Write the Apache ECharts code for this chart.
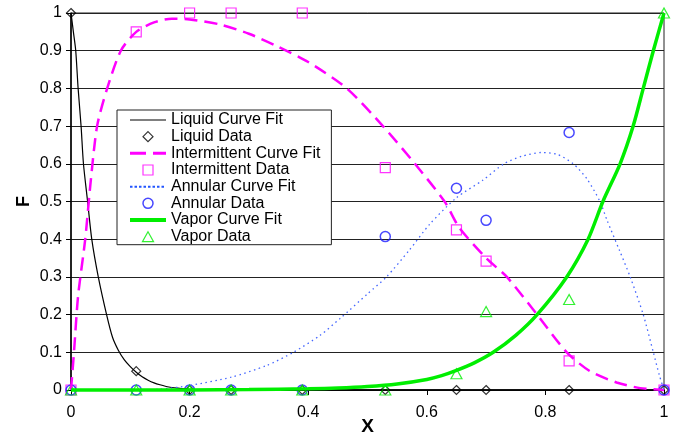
<!DOCTYPE html>
<html>
<head>
<meta charset="utf-8">
<script src="https://cdn.jsdelivr.net/npm/echarts@6/dist/echarts.min.js"></script>
<style>
  html, body { margin: 0; padding: 0; background: #fff; }
  #chart { width: 677px; height: 438px; }
</style>
</head>
<body>
<div id="chart"></div>
<script>
// measured points (X) shared by all four data sets
const xData = [0, 0.11, 0.2, 0.27, 0.39, 0.53, 0.65, 0.70, 0.84, 1];
const liquidData = [1, 0.05, 0, 0, 0, 0, 0, 0, 0, 0];
const intermittentData = [0, 0.95, 1, 1, 1, 0.59, 0.425, 0.342, 0.077, 0];
const annularData = [0, 0, 0, 0, 0, 0.407, 0.535, 0.45, 0.683, 0];
const vaporData = [0, 0, 0, 0, 0, 0, 0.043, 0.208, 0.24, 1];

// curve fits
const liquidFit = [[0, 1], [0.004, 0.95], [0.008, 0.9], [0.012, 0.8], [0.017, 0.7], [0.021, 0.6],
  [0.028, 0.5], [0.035, 0.4], [0.046, 0.3], [0.06, 0.2], [0.07, 0.14], [0.08, 0.105],
  [0.09, 0.08], [0.1, 0.062], [0.11, 0.047], [0.12, 0.035], [0.13, 0.026], [0.14, 0.019],
  [0.15, 0.014], [0.165, 0.008], [0.18, 0.005], [0.2, 0.002], [0.22, 0.001], [0.3, 0], [1, 0]];
const intermittentFit = [[0, 0], [0.005, 0.1], [0.012, 0.25], [0.024, 0.4], [0.033, 0.55],
  [0.044, 0.7], [0.061, 0.8], [0.084, 0.9], [0.11, 0.95], [0.14, 0.975], [0.17, 0.985],
  [0.2, 0.983], [0.25, 0.97], [0.3, 0.945], [0.35, 0.91], [0.4, 0.87], [0.465, 0.8],
  [0.526, 0.7], [0.58, 0.6], [0.63, 0.5], [0.655, 0.43], [0.70, 0.35], [0.735, 0.3],
  [0.786, 0.2], [0.836, 0.1], [0.875, 0.05], [0.92, 0.02], [0.96, 0.005], [1, 0]];
const annularFit = [[0, 0], [0.1, 0], [0.15, 0.002], [0.2, 0.012], [0.27, 0.034], [0.33, 0.065],
  [0.375, 0.1], [0.42, 0.145], [0.454, 0.19], [0.5, 0.255], [0.532, 0.3], [0.57, 0.37],
  [0.605, 0.44], [0.65, 0.51], [0.695, 0.557], [0.73, 0.6], [0.76, 0.62], [0.794, 0.63],
  [0.82, 0.625], [0.847, 0.6], [0.87, 0.56], [0.892, 0.5], [0.904, 0.45], [0.925, 0.37],
  [0.943, 0.3], [0.965, 0.2], [0.982, 0.1], [0.992, 0.04], [1, 0]];
const vaporFit = [[0, 0], [0.2, 0], [0.3, 0.001], [0.4, 0.003], [0.45, 0.005], [0.5, 0.009],
  [0.55, 0.016], [0.6, 0.028], [0.625, 0.038], [0.65, 0.052], [0.68, 0.072], [0.712, 0.1],
  [0.75, 0.145], [0.786, 0.2], [0.836, 0.3], [0.872, 0.4], [0.897, 0.5], [0.926, 0.6],
  [0.948, 0.7], [0.965, 0.8], [0.982, 0.9], [1, 1]];

const FONT = "'Liberation Sans', Arial, sans-serif";
const pairs = (ys) => xData.map((x, i) => [x, ys[i]]);

const chart = echarts.init(document.getElementById('chart'));

const fitSeries = (name, data, color, width, type) => ({
  name, type: 'line', data, symbol: 'none', smooth: 0.25,
  clip: false, color, lineStyle: { color, width, type }
});
const dataSeries = (name, ys, color, symbol, size, bw) => ({
  name, type: 'scatter', data: pairs(ys), symbol, symbolSize: size, clip: false,
  itemStyle: { color: 'rgba(0,0,0,0)', borderColor: color, borderWidth: bw }
});

chart.setOption({
  animation: false,
  textStyle: { fontFamily: FONT },
  grid: {
    left: 71, right: 13, top: 13, bottom: 48, show: true,
    borderColor: '#222', borderWidth: 1, outerBoundsMode: 'none', containLabel: false
  },
  xAxis: {
    type: 'value', min: 0, max: 1, interval: 0.2,
    axisLine: { show: true, lineStyle: { color: '#000', width: 1.5 } },
    axisTick: { show: true, length: 5, lineStyle: { color: '#000' } },
    axisLabel: { fontSize: 16, color: '#000', margin: 15, fontFamily: FONT },
    splitLine: { show: false },
    name: 'X', nameLocation: 'middle', nameGap: 27, nameMoveOverlap: false,
    nameTextStyle: { fontSize: 19, fontWeight: 'bold', color: '#000', fontFamily: FONT }
  },
  yAxis: {
    type: 'value', min: 0, max: 1, interval: 0.1,
    axisLine: { show: true, lineStyle: { color: '#000', width: 1.5 } },
    axisTick: { show: true, length: 5, lineStyle: { color: '#000' } },
    axisLabel: { fontSize: 16, color: '#000', margin: 9, fontFamily: FONT },
    splitLine: { show: true, lineStyle: { color: '#222', width: 1.2 } },
    name: 'F', nameLocation: 'middle', nameGap: 38, nameRotate: 90, nameMoveOverlap: false,
    nameTextStyle: { fontSize: 18, fontWeight: 'bold', color: '#000', fontFamily: FONT }
  },
  legend: {
    orient: 'vertical', left: 117, top: 110,
    padding: [2, 11, 0, 11], itemGap: 0.67,
    itemWidth: 36, itemHeight: 10,
    backgroundColor: '#fff', borderColor: '#222', borderWidth: 1, borderRadius: 0,
    textStyle: { fontSize: 16, color: '#000', lineHeight: 16, fontFamily: FONT },
    data: [
      { name: 'Liquid Curve Fit', itemStyle: { opacity: 0 }, lineStyle: { width: 1.2 } },
      { name: 'Liquid Data', icon: 'path://M5,0L10,5L5,10L0,5Z', itemStyle: { borderWidth: 1.2 } },
      { name: 'Intermittent Curve Fit', itemStyle: { opacity: 0 }, lineStyle: { width: 3, type: [16, 7] } },
      { name: 'Intermittent Data', icon: 'path://M0,0H10V10H0Z', itemStyle: { borderWidth: 1.2 } },
      { name: 'Annular Curve Fit', itemStyle: { opacity: 0 }, lineStyle: { width: 2, type: [2.5, 2], color: '#2255ff' } },
      { name: 'Annular Data', icon: 'circle', itemStyle: { borderWidth: 1.5 } },
      { name: 'Vapor Curve Fit', itemStyle: { opacity: 0 }, lineStyle: { width: 4 } },
      { name: 'Vapor Data', icon: 'path://M5,0L10,9L0,9Z', itemStyle: { borderWidth: 1.2 } }
    ]
  },
  series: [
    fitSeries('Liquid Curve Fit', liquidFit, '#000', 1.2, 'solid'),
    dataSeries('Liquid Data', liquidData, '#000', 'diamond', 9, 1.2),
    fitSeries('Intermittent Curve Fit', intermittentFit, '#ff00ff', 2.5, [13, 7]),
    dataSeries('Intermittent Data', intermittentData, '#ff00ff', 'rect', 10, 1.2),
    fitSeries('Annular Curve Fit', annularFit, '#4466ff', 1.3, [1.5, 3.5]),
    dataSeries('Annular Data', annularData, '#1a1aff', 'circle', 10, 1.5),
    fitSeries('Vapor Curve Fit', vaporFit, '#00ee00', 3.5, 'solid'),
    dataSeries('Vapor Data', vaporData, '#00ee00', 'triangle', [11, 10], 1.2)
  ]
});
</script>
</body>
</html>
